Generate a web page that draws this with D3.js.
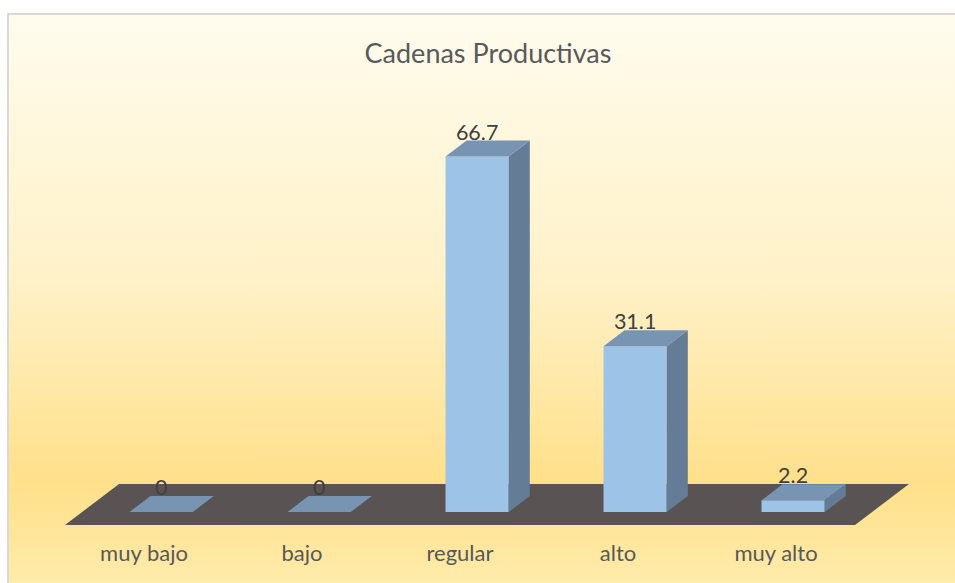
<!DOCTYPE html>
<html>
<head>
<meta charset="utf-8">
<script src="https://cdn.jsdelivr.net/npm/d3@7"></script>
<style>
  body { margin: 0; background: #fff; }
  svg { display: block; }
</style>
</head>
<body>
<svg width="955" height="583"></svg>
<script>
// datos del gráfico
const categorias = ["muy bajo", "bajo", "regular", "alto", "muy alto"];
const valores = [0, 0, 66.7, 31.1, 2.2];
const titulo = "Cadenas Productivas";

const svg = d3.select("svg");

// fondo degradado
const defs = svg.append("defs");
const grad = defs.append("linearGradient")
  .attr("id", "fondo")
  .attr("gradientUnits", "userSpaceOnUse")
  .attr("x1", 0).attr("y1", 14).attr("x2", 0).attr("y2", 600);
grad.append("stop").attr("offset", "0").attr("stop-color", "#fffcee");
grad.append("stop").attr("offset", "0.45").attr("stop-color", "#fff2c9");
grad.append("stop").attr("offset", "0.8").attr("stop-color", "#ffe08a");
grad.append("stop").attr("offset", "1").attr("stop-color", "#ffedb0");

svg.append("rect")
  .attr("x", 8).attr("y", 14)
  .attr("width", 960).attr("height", 600)
  .attr("fill", "url(#fondo)")
  .attr("stroke", "#d9d9d9")
  .attr("stroke-width", 2);

// título
svg.append("text")
  .attr("x", 488).attr("y", 63)
  .attr("text-anchor", "middle")
  .attr("font-family", "Lato, sans-serif")
  .attr("font-size", 27)
  .attr("fill", "#595959")
  .text(titulo);

// proyección 3D: z en px de profundidad vertical
const frenteY = 525;
const kx = 54 / 41;
const proj = (x, z, h) => [x + z * kx, frenteY - z - (h || 0)];

const x = d3.scaleBand().domain(categorias).range([65, 855]);
const y = d3.scaleLinear().domain([0, 70]).range([0, 373]);

// piso
const fondoZ = 41;
const piso = [proj(65, 0), proj(855, 0), proj(855, fondoZ), proj(65, fondoZ)];
svg.append("polygon")
  .attr("points", piso.map(p => p.join(",")).join(" "))
  .attr("fill", "#595453");

// barras
const zFrente = 13, zAtras = 29;
const anchoBarra = x.bandwidth() * 0.4;

const g = svg.append("g");
categorias.forEach((c, i) => {
  const v = valores[i];
  const h = y(v);
  const cx = x(c) + x.bandwidth() / 2;
  const x0 = cx - anchoBarra / 2, x1 = cx + anchoBarra / 2;

  const poly = (pts, color) => g.append("polygon")
    .attr("points", pts.map(p => p.join(",")).join(" "))
    .attr("fill", color);

  if (h > 0) {
    // frente
    poly([proj(x0, zFrente), proj(x1, zFrente), proj(x1, zFrente, h), proj(x0, zFrente, h)], "#9dc3e6");
    // lado
    poly([proj(x1, zFrente), proj(x1, zAtras), proj(x1, zAtras, h), proj(x1, zFrente, h)], "#647c96");
  }
  // tapa
  poly([proj(x0, zFrente, h), proj(x1, zFrente, h), proj(x1, zAtras, h), proj(x0, zAtras, h)], "#7794b3");

  // etiqueta del valor
  const pc = proj(cx, zFrente, h);
  const pt = proj(cx, zAtras, h);
  g.append("text")
    .attr("x", pc[0])
    .attr("y", pt[1] - 1)
    .attr("text-anchor", "middle")
    .attr("font-family", "Lato, sans-serif")
    .attr("font-size", 21.5)
    .attr("fill", "#404040")
    .text(v);
});

// etiquetas de categorías
svg.selectAll(".cat")
  .data(categorias)
  .enter().append("text")
  .attr("class", "cat")
  .attr("x", d => x(d) + x.bandwidth() / 2)
  .attr("y", 561)
  .attr("text-anchor", "middle")
  .attr("font-family", "Lato, sans-serif")
  .attr("font-size", 22)
  .attr("fill", "#595959")
  .text(d => d);
</script>
</body>
</html>
